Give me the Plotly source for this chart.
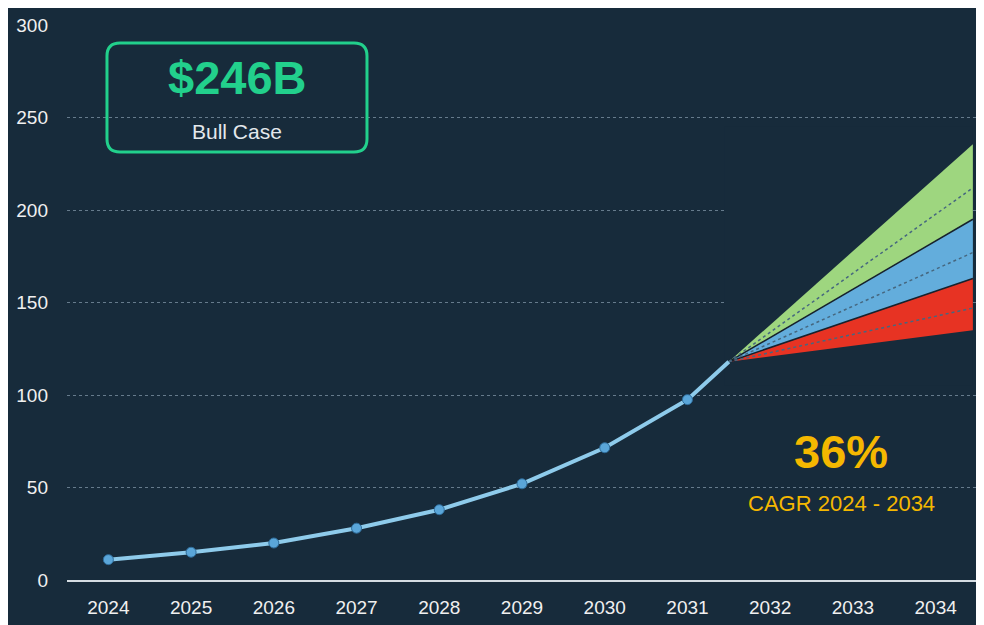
import plotly.graph_objects as go

# ---- data ----
years = [2024, 2025, 2026, 2027, 2028, 2029, 2030, 2031]
market = [11, 15, 20, 28, 38, 52, 71.5, 97.5]
tick_years = [2024, 2025, 2026, 2027, 2028, 2029, 2030, 2031, 2032, 2033, 2034]
tick_labels = [str(y) for y in tick_years]
y_ticks = [0, 50, 100, 150, 200, 250, 300]

fan_x = [2031.5, 2034.45]
fan_start = 118
bull_high = 235.5
bull_mid = 212
base_high = 195
base_mid = 177
bear_high = 163
bear_mid = 147
bear_low = 135

headline = "$246B"
headline_sub = "Bull Case"
cagr = "36%"
cagr_sub = "CAGR 2024 - 2034"

# ---- style ----
BG = "#172b3b"
FONT = "Liberation Sans, Arial, sans-serif"
GREEN = "#22d08c"
AMBER = "#f5b800"

fig = go.Figure()

def band(top, bottom, color):
    fig.add_trace(go.Scatter(
        x=[fan_x[0], fan_x[1], fan_x[1], fan_x[0]],
        y=[fan_start, top, bottom, fan_start],
        fill="toself", fillcolor=color, mode="lines",
        line=dict(width=0, color=color), hoverinfo="skip", showlegend=False))

band(bull_high, base_high, "#9ed67f")
band(base_high, bear_high, "#63addc")
band(bear_high, bear_low, "#e73323")

for v in [base_high, bear_high]:
    fig.add_trace(go.Scatter(x=fan_x, y=[fan_start, v], mode="lines",
                             line=dict(color="#17222d", width=1.5),
                             hoverinfo="skip", showlegend=False))
for v in [bull_mid, base_mid, bear_mid]:
    fig.add_trace(go.Scatter(x=fan_x, y=[fan_start, v], mode="lines",
                             line=dict(color="#46677f", width=1.5, dash="dot"),
                             hoverinfo="skip", showlegend=False))

# main line
fig.add_trace(go.Scatter(x=years + [fan_x[0]], y=market + [fan_start], mode="lines",
                         line=dict(color="#8ecbeb", width=4),
                         hoverinfo="skip", showlegend=False))
fig.add_trace(go.Scatter(x=years, y=market, mode="markers",
                         marker=dict(size=10, color="#5aa6d9",
                                     line=dict(color="#2f6d9b", width=1)),
                         showlegend=False))

shapes = [
    # hide gridlines behind forecast area
    dict(type="rect", xref="x", yref="y", x0=2031.45, x1=2034.45, y0=105, y1=245,
         fillcolor=BG, line=dict(width=0), layer="between"),
    # rounded box
    dict(type="path", xref="paper", yref="paper", xsizemode="pixel", ysizemode="pixel",
         xanchor=0.1868, yanchor=0.8694,
         path=("M -117,54.5 L 117,54.5 Q 130,54.5 130,41.5 L 130,-41.5 "
               "Q 130,-54.5 117,-54.5 L -117,-54.5 Q -130,-54.5 -130,-41.5 "
               "L -130,41.5 Q -130,54.5 -117,54.5 Z"),
         line=dict(color=GREEN, width=3), fillcolor="rgba(0,0,0,0)", layer="above"),
]

annotations = [
    dict(x=2025.555, y=271.4, text=f"<b>{headline}</b>", showarrow=False,
         font=dict(family=FONT, size=47, color=GREEN), xanchor="center", yanchor="middle"),
    dict(x=2025.555, y=242.7, text=headline_sub, showarrow=False,
         font=dict(family=FONT, size=21, color="#e3e8ec"), xanchor="center", yanchor="middle"),
    dict(x=2032.86, y=69.2, text=f"<b>{cagr}</b>", showarrow=False,
         font=dict(family=FONT, size=47, color=AMBER), xanchor="center", yanchor="middle"),
    dict(x=2032.86, y=41.6, text=cagr_sub, showarrow=False,
         font=dict(family=FONT, size=22, color=AMBER), xanchor="center", yanchor="middle"),
]

fig.update_layout(
    width=976, height=617,
    margin=dict(l=59, r=7, t=17, b=42),
    paper_bgcolor=BG, plot_bgcolor=BG,
    font=dict(family=FONT, color="#f0f0f0"),
    shapes=shapes, annotations=annotations,
    showlegend=False,
    xaxis=dict(range=[2023.5, 2034.5], tickvals=tick_years, ticktext=tick_labels,
               showgrid=False, zeroline=False, showline=True,
               linecolor="#d5dde3", linewidth=1.5, ticks="",
               tickfont=dict(family=FONT, size=19, color="#f0f0f0"),
               ticklabelstandoff=9, fixedrange=True),
    yaxis=dict(range=[0, 300], tickvals=y_ticks, showgrid=True,
               gridcolor="#667b8c", gridwidth=1, griddash="dot",
               zeroline=False, showline=False, ticks="",
               tickfont=dict(family=FONT, size=19, color="#f0f0f0"),
               ticklabelstandoff=18, fixedrange=True),
)

fig.write_html("out.html")
